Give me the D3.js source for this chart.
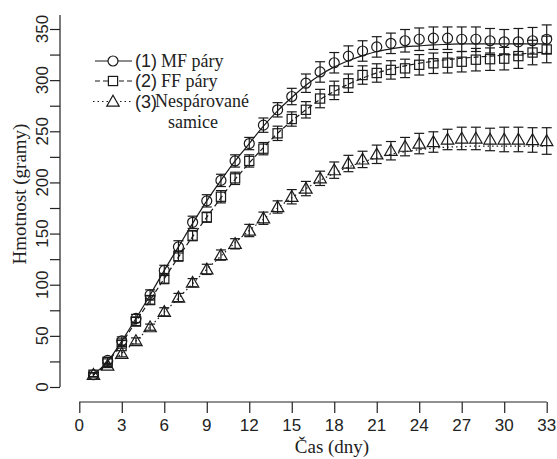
<!DOCTYPE html>
<html>
<head>
    <meta charset="utf-8" />
    <title>Hmotnost v case</title>
    <style>
        body { margin: 0; background: #ffffff; }
        .axis line, .axis path { stroke: #222222; stroke-width: 1.2px; fill: none; }
        .tick-label { font-family: "Liberation Sans", Arial, sans-serif; font-size: 17px; fill: #222222; }
        .title { font-family: "Liberation Serif", "Times New Roman", Times, serif; font-size: 19px; fill: #222222; }
        .legend-num { font-family: "Liberation Sans", Arial, sans-serif; font-size: 18px; fill: #222222; }
        .legend-text { font-family: "Liberation Serif", "Times New Roman", Times, serif; font-size: 18px; fill: #222222; }
        .series line, .series path, .series circle, .series rect { stroke: #1a1a1a; stroke-width: 1.2px; fill: none; }
        .legend .mark { fill: #ffffff; }
    </style>
    <script src="https://cdn.jsdelivr.net/npm/d3@7"></script>
</head>
<body>
    <svg width="557" height="459"></svg>

    <script>
        // data (grams per day)
        var days = [1, 2, 3, 4, 5, 6, 7, 8, 9, 10, 11, 12, 13, 14, 15, 16, 17,
                    18, 19, 20, 21, 22, 23, 24, 25, 26, 27, 28, 29, 30, 31, 32, 33];

        var mfMean = [12, 26, 45, 67, 90, 114, 137, 161, 182, 202, 221, 238, 256, 271, 284, 297, 308,
                      317, 323.5, 328.5, 332.5, 336, 338.5, 340, 341, 341, 340, 340, 338.5, 337.5, 337.5, 338.5, 340];
        var mfErr = [2, 3, 4, 4, 5, 5, 6, 6, 6, 6, 6, 6, 7, 7, 8, 9, 10,
                     10, 10, 10, 10, 10, 11, 11, 11, 11, 12, 12, 12, 12, 13, 13, 14];
        var mfFit = [12, 25, 45, 67, 90, 114, 137, 160, 182, 202, 221, 238, 255, 270, 283, 295, 305,
                     313, 319, 324, 328, 330.5, 332.5, 333.5, 334.5, 335, 335.5, 335.5, 335.5, 335.5, 335.5, 335.5, 335.5];

        var ffMean = [12, 24.5, 42.5, 64, 85, 106, 128, 148, 166, 186, 204, 221, 233, 248, 262, 271, 282,
                      290, 297, 305, 307, 310, 311.5, 315, 316.5, 317, 318, 320, 320.5, 321, 323.5, 327, 330];
        var ffErr = [2, 3, 3, 4, 4, 5, 5, 5, 5, 6, 6, 6, 6, 7, 7, 8, 9,
                     9, 9, 9, 9, 9, 9, 10, 10, 10, 10, 11, 11, 11, 12, 12, 13];
        var ffFit = [12, 24, 43, 64, 85, 106, 127, 147, 166, 185, 203, 219, 234, 248, 260, 271, 281,
                     289, 296, 302, 307, 311, 314, 316.5, 318.5, 320, 321.5, 322.5, 323.5, 324.5, 325.5, 326.5, 327.5];

        var unMean = [12, 21, 32.5, 45, 58.5, 73.5, 87.5, 102, 115, 129, 140, 153, 165, 176, 186, 194, 204,
                      212, 218.5, 222.5, 227.5, 231, 235, 238, 239.5, 242, 243, 243, 242, 242, 242, 241.5, 240.5];
        var unErr = [2, 2, 3, 3, 3, 4, 4, 4, 5, 5, 5, 6, 6, 6, 7, 7, 7,
                     8, 8, 8, 9, 9, 9, 10, 10, 10, 11, 11, 11, 12, 12, 12, 13];
        var unFit = [12, 21, 33, 45, 59, 73, 87, 101, 115, 128, 141, 153, 164, 175, 185, 194, 202,
                     209, 215, 220, 224, 227.5, 230, 232, 233.5, 234.5, 235, 235.5, 235.5, 235.5, 235.5, 235.5, 235.5];

        var xTicks = [0, 3, 6, 9, 12, 15, 18, 21, 24, 27, 30, 33];
        var yTicks = [0, 25, 50, 75, 100, 125, 150, 175, 200, 225, 250, 275, 300, 325, 350];
        var yLabels = [0, 50, 100, 150, 200, 250, 300, 350];

        var legendNums = ['(1)', '(2)', '(3)'];
        var legendNames = ['MF páry', 'FF páry', 'Nespárované'];

        var svg = d3.select('svg');

        var x = d3.scaleLinear().domain([0, 33]).range([79.3, 546.7]);
        var y = d3.scaleLinear().domain([0, 350]).range([387, 29]);

        // axes
        var xAxis = svg.append('g')
            .attr('class', 'axis')
            .attr('transform', 'translate(0, 402)')
            .call(d3.axisBottom(x).tickValues(xTicks).tickSize(11).tickFormat(''));
        xAxis.select('.domain').attr('d', 'M' + x(0) + ',0H' + x(33));

        svg.selectAll('.xlab')
            .data(xTicks)
            .enter().append('text')
                .attr('class', 'tick-label')
                .attr('x', x)
                .attr('y', 431)
                .attr('text-anchor', 'middle')
                .text(function(d) { return d; });

        var yAxis = svg.append('g')
            .attr('class', 'axis')
            .attr('transform', 'translate(60, 0)')
            .call(d3.axisLeft(y).tickValues(yTicks).tickSize(10).tickFormat(''));
        yAxis.select('.domain').attr('d', 'M0,' + y(0) + 'V15');

        svg.selectAll('.ylab')
            .data(yLabels)
            .enter().append('text')
                .attr('class', 'tick-label')
                .attr('transform', function(d) { return 'translate(48,' + y(d) + ') rotate(-90)'; })
                .attr('text-anchor', 'middle')
                .text(function(d) { return d; });

        svg.append('text')
            .attr('class', 'title')
            .attr('x', 332)
            .attr('y', 453)
            .attr('text-anchor', 'middle')
            .text('Čas (dny)');

        svg.append('text')
            .attr('class', 'title')
            .attr('transform', 'translate(26, 194) rotate(-90)')
            .attr('text-anchor', 'middle')
            .text('Hmotnost (gramy)');

        // marker shapes
        var shapes = {
            circle: function(g) { return g.append('circle').attr('r', 5); },
            square: function(g) { return g.append('rect').attr('x', -4.6).attr('y', -4.6).attr('width', 9.2).attr('height', 9.2); },
            triangle: function(g) { return g.append('path').attr('d', 'M0,-6.2L6.2,4.6L-6.2,4.6Z'); }
        };

        var series = [
            { mean: mfMean, err: mfErr, fit: mfFit, dash: null, shape: 'circle' },
            { mean: ffMean, err: ffErr, fit: ffFit, dash: '5,3', shape: 'square' },
            { mean: unMean, err: unErr, fit: unFit, dash: '1.5,3', shape: 'triangle' }
        ];

        var line = d3.line()
            .x(function(d) { return x(d[0]); })
            .y(function(d) { return y(d[1]); })
            .curve(d3.curveMonotoneX);

        series.forEach(function(s) {
            var g = svg.append('g').attr('class', 'series');

            g.append('path')
                .attr('d', line(days.map(function(d, i) { return [d, s.fit[i]]; })))
                .attr('stroke-dasharray', s.dash);

            var pts = g.selectAll('.pt')
                .data(days.map(function(d, i) { return { day: d, v: s.mean[i], e: s.err[i] }; }))
                .enter().append('g')
                    .attr('class', 'pt');

            pts.append('line')
                .attr('x1', function(d) { return x(d.day); })
                .attr('x2', function(d) { return x(d.day); })
                .attr('y1', function(d) { return y(d.v - d.e); })
                .attr('y2', function(d) { return y(d.v + d.e); });
            pts.append('line')
                .attr('x1', function(d) { return x(d.day) - 5; })
                .attr('x2', function(d) { return x(d.day) + 5; })
                .attr('y1', function(d) { return y(d.v + d.e); })
                .attr('y2', function(d) { return y(d.v + d.e); });
            pts.append('line')
                .attr('x1', function(d) { return x(d.day) - 5; })
                .attr('x2', function(d) { return x(d.day) + 5; })
                .attr('y1', function(d) { return y(d.v - d.e); })
                .attr('y2', function(d) { return y(d.v - d.e); });

            pts.append('g')
                .attr('transform', function(d) { return 'translate(' + x(d.day) + ',' + y(d.v) + ')'; })
                .each(function() { shapes[s.shape](d3.select(this)); });
        });

        // legend
        var legendRows = [61, 81, 101.5];
        var legend = svg.append('g').attr('class', 'series legend');

        series.forEach(function(s, i) {
            var row = legend.append('g').attr('transform', 'translate(113,' + legendRows[i] + ')');
            row.append('line')
                .attr('x1', i === 2 ? -20 : -18)
                .attr('x2', 19)
                .attr('stroke-dasharray', s.dash);
            shapes[s.shape](row).attr('class', 'mark');

            svg.append('text')
                .attr('class', 'legend-num')
                .attr('x', 135)
                .attr('y', legendRows[i] + 6)
                .text(legendNums[i]);
            svg.append('text')
                .attr('class', 'legend-text')
                .attr('x', i === 2 ? 155 : 161)
                .attr('y', legendRows[i] + 5.5)
                .text(legendNames[i]);
        });

        svg.append('text')
            .attr('class', 'legend-text')
            .attr('x', 168)
            .attr('y', 128)
            .text('samice');
    </script>
</body>
</html>
